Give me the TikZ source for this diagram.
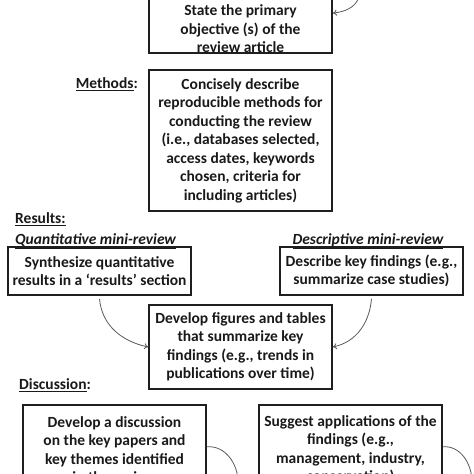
\documentclass[tikz,border=0pt]{standalone}
\usepackage{fontspec}
\setmainfont{Carlito}
\usetikzlibrary{arrows.meta,calc}
\begin{document}
\begin{tikzpicture}[x=1pt,y=-1pt,
  every node/.style={font=\fontsize{15.5pt}{18.5pt}\selectfont\bfseries, text=black!90},
  box/.style={draw=black!88, line width=1.6pt, inner sep=0pt, align=center, minimum width=183pt},
  txt/.style={inner sep=0pt, align=center},
  lbl/.style={inner sep=0pt},
  conn/.style={draw=black!65, line width=0.8pt, -{To[length=4pt,width=6pt]}},
  arc/.style={draw=black!65, line width=0.8pt}]
\useasboundingbox (0,0) rectangle (474,474);
\clip (0,0) rectangle (474,474);
% boxes
\node[box, minimum height=80pt, anchor=south] (obj) at (240.5,54) {};
\node[txt] (objtxt) at (240.5,29) {State the primary\\objective (s) of the\\review article};
\node[box, minimum height=141pt] (meth) at (240.5,140.5) {Concisely describe\\reproducible methods for\\conducting the review\\(i.e., databases selected,\\access dates, keywords\\chosen, criteria for\\including articles)};
\node[box, minimum height=48pt] (q) at (99.5,271) {Synthesize quantitative\\results in a ‘results’ section};
\node[box, minimum height=48pt] (d) at (371.5,271) {Describe key findings (e.g.,\\summarize case studies)};
\node[box, minimum height=84pt] (f) at (240.5,347) {Develop figures and tables\\that summarize key\\findings (e.g., trends in\\publications over time)};
\node[box, minimum height=90pt, anchor=north] (da) at (114.5,404) {Develop a discussion\\on the key papers and\\key themes identified\\in the review};
\node[box, minimum height=90pt, anchor=north] (sa) at (350.5,404) {Suggest applications of the\\findings (e.g.,\\management, industry,\\conservation)};
% labels
\node[lbl, anchor=east] (lm) at (138,84) {\underline{Methods}:};
\node[lbl, anchor=west] (lr) at (15,219) {\underline{Results:}};
\node[lbl, anchor=west] (lq) at (15,241) {\itshape\underline{Quantitative mini-review}};
\node[lbl] (ld) at (368,241) {\itshape\underline{Descriptive mini-review}};
\node[lbl, anchor=west] (ldis) at (19,385) {\underline{Discussion}:};
% connectors
\coordinate (t0) at (359,-3);
\draw[conn] (t0) to[out=-110,in=8] (obj.east);
\draw[conn] ([yshift=-3pt]q.south) to[out=-85,in=168] (f.west);
\draw[conn] ([yshift=-3pt]d.south) to[out=-95,in=12] (f.east);
\coordinate (e1) at (238,482);
\coordinate (e2) at (472,482);
\draw[arc] ([yshift=3pt]da.east) to[out=5,in=90] (e1);
\draw[arc] ([yshift=3pt]sa.east) to[out=5,in=90] (e2);
\end{tikzpicture}
\end{document}
